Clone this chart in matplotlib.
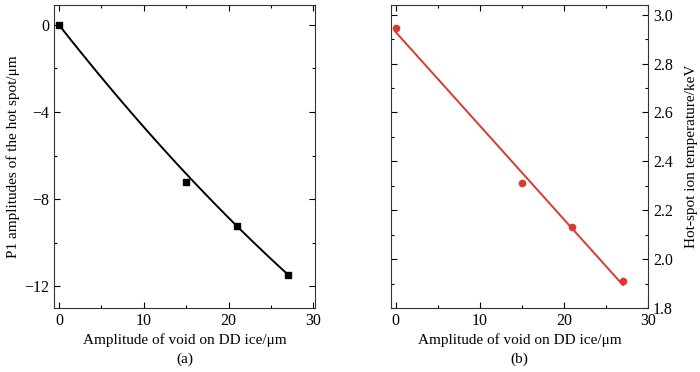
import numpy as np
import matplotlib.pyplot as plt
from matplotlib.ticker import AutoMinorLocator

plt.rcParams['font.family'] = ['Liberation Serif', 'DejaVu Serif']

# data
void_amp = [0, 15, 21, 27]
p1_amp = [0, -7.23, -9.22, -11.47]
ion_temp = [2.947, 2.312, 2.131, 1.912]

fig = plt.figure(figsize=(7, 3.72), dpi=100)
ax1 = fig.add_axes([0.077, 0.172, 0.373, 0.815])
ax2 = fig.add_axes([0.559, 0.172, 0.367, 0.815])

xs = np.linspace(0, 27, 100)

# (a) P1 amplitude, smooth fit (middle point weighted less, like the original curve)
fit1 = np.polyfit(void_amp, p1_amp, 2, w=[5, 1, 5, 5])
ax1.plot(xs, np.polyval(fit1, xs), color='black', lw=1.4)
ax1.plot(void_amp, p1_amp, 's', color='black', ms=4.5)
ax1.set_xlim(-0.6, 30.2)
ax1.set_ylim(-13, 0.92)
ax1.set_yticks([0, -4, -8, -12])
ax1.set_yticklabels(['0', '\u22124', '\u22128', '\u221212'])
ax1.set_ylabel('P1 amplitudes of the hot spot/\u03bcm', fontsize=11, labelpad=3)

# (b) hot-spot ion temperature, linear fit
fit2 = np.polyfit(void_amp, ion_temp, 1)
ax2.plot(xs, np.polyval(fit2, xs), color='#d83a32', lw=1.4)
ax2.plot(void_amp, ion_temp, 'o', color='#d83a32', ms=4.5)
ax2.set_xlim(-0.5, 30)
ax2.set_ylim(1.8, 3.04)
ax2.set_yticks([1.8, 2.0, 2.2, 2.4, 2.6, 2.8, 3.0])
ax2.yaxis.tick_right()
ax2.yaxis.set_label_position('right')
ax2.set_ylabel('Hot-spot ion temperature/keV', fontsize=11, labelpad=9)

for ax, tag in [(ax1, '(a)'), (ax2, '(b)')]:
    ax.set_xticks([0, 10, 20, 30])
    ax.xaxis.set_minor_locator(AutoMinorLocator(2))
    ax.yaxis.set_minor_locator(AutoMinorLocator(2))
    ax.tick_params(which='both', direction='in', top=True, bottom=True,
                   left=True, right=True, labelsize=11.5, width=0.8)
    ax.tick_params(which='major', length=4)
    ax.tick_params(which='minor', length=2.5)
    for s in ax.spines.values():
        s.set_linewidth(0.8)
        s.set_color('#333333')
    ax.set_xlabel('Amplitude of void on DD ice/\u03bcm\n' + tag, fontsize=11,
                  linespacing=1.55, labelpad=3)

fig.savefig('out.png', dpi=100)
